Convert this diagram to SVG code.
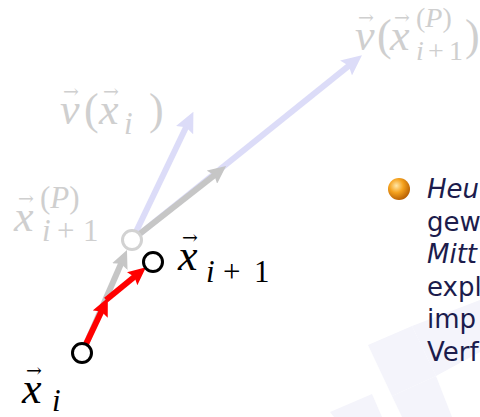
<svg xmlns="http://www.w3.org/2000/svg" width="480" height="417" viewBox="0 0 480 417">
<defs>
<style>
.m{font-family:"Liberation Serif",serif;font-style:italic;font-size:44px}
.n{font-family:"Liberation Serif",serif;font-style:normal}
.s{font-size:31px}
.s2{font-size:28px}
.ar{font-family:"DejaVu Serif",serif;font-style:normal;font-size:19px}
.g{fill:#cfcfcf}
.k{fill:#000}
.t{font-family:"DejaVu Sans","Noto Sans",sans-serif;font-size:26px;fill:#1c1c4c}
.red{stroke:#ff0000;stroke-width:6;fill:none}
.gry{stroke:#c6c6c6;stroke-width:6;fill:none}
.lav{stroke:#dcdcf8;stroke-width:6;fill:none}
</style>
<marker id="hr" viewBox="0 0 3 2.8" refX="1.5" refY="1.4" markerWidth="3" markerHeight="2.8" orient="auto" markerUnits="strokeWidth"><path d="M0,0 L3,1.4 L0,2.8 L0.5,1.4 z" fill="#ff0000"/></marker>
<marker id="hg" viewBox="0 0 3 2.8" refX="1.5" refY="1.4" markerWidth="3" markerHeight="2.8" orient="auto" markerUnits="strokeWidth"><path d="M0,0 L3,1.4 L0,2.8 L0.5,1.4 z" fill="#c6c6c6"/></marker>
<marker id="hl" viewBox="0 0 3 2.8" refX="1.5" refY="1.4" markerWidth="3.4" markerHeight="3.2" orient="auto" markerUnits="strokeWidth"><path d="M0,0 L3,1.4 L0,2.8 L0.5,1.4 z" fill="#dcdcf8"/></marker>
<radialGradient id="ball" cx="0.38" cy="0.35" r="0.7">
<stop offset="0" stop-color="#ffe7a8"/>
<stop offset="0.45" stop-color="#f5a21e"/>
<stop offset="1" stop-color="#b35a00"/>
</radialGradient>
</defs>
<rect width="480" height="417" fill="#ffffff"/>
<g id="background" fill="#f4f4fb">
<polygon points="368,345 412,326 436,376 392,396"/>
<polygon points="412,326 480,300 480,352 436,376"/>
<polygon points="330,412 372,394 382,417 334,417"/>
<polygon points="392,396 436,376 452,417 402,417"/>
</g>
<g id="connectors">
<line class="lav" x1="137" y1="236" x2="354" y2="61.6" marker-end="url(#hl)"/>
<line class="lav" x1="134" y1="236" x2="189" y2="121" marker-end="url(#hl)"/>
<line class="gry" x1="137" y1="236" x2="219" y2="171.6" marker-end="url(#hg)"/>
<line class="gry" x1="84" y1="349" x2="123.4" y2="258.3" marker-end="url(#hg)"/>
<line class="red" x1="86" y1="344" x2="104" y2="306" marker-end="url(#hr)"/>
<line class="red" x1="106" y1="300" x2="139" y2="273" marker-end="url(#hr)"/>
</g>
<g id="node-xp">
<circle cx="132" cy="240" r="9.5" fill="#ffffff" stroke="#d2d2d2" stroke-width="3"/>
</g>
<g id="node-xi">
<circle cx="82" cy="353" r="9.5" fill="#ffffff" stroke="#000" stroke-width="3"/>
</g>
<g id="node-xi1">
<circle cx="153" cy="262" r="9.5" fill="#ffffff" stroke="#000" stroke-width="3"/>
</g>
<g id="label-vxi" class="g">
<text class="m" x="60" y="124">v</text>
<text class="ar" x="63" y="98">→</text>
<text class="m n" x="84" y="124">(</text>
<text class="m" x="99" y="124">x</text>
<text class="ar" x="103" y="98">→</text>
<text class="m s" x="124" y="134">i</text>
<text class="m n" x="149" y="124">)</text>
</g>
<g id="label-vxp" class="g">
<text class="m" x="355" y="50">v</text>
<text class="ar" x="358" y="24">→</text>
<text class="m n" x="377" y="50">(</text>
<text class="m" x="390" y="50">x</text>
<text class="ar" x="394" y="24">→</text>
<text class="m s2" x="416" y="27"><tspan class="n">(</tspan>P<tspan class="n">)</tspan></text>
<text class="m s2" x="416" y="60">i</text>
<text class="m n s2" x="428" y="60">+</text>
<text class="m n s2" x="449" y="60">1</text>
<text class="m n" x="465" y="50">)</text>
</g>
<g id="label-xp" class="g">
<text class="m" x="14" y="231">x</text>
<text class="ar" x="18" y="205">→</text>
<text class="m s" x="40" y="208"><tspan class="n">(</tspan>P<tspan class="n">)</tspan></text>
<text class="m s" x="42" y="241">i</text>
<text class="m n s" x="57" y="241">+</text>
<text class="m n s" x="83" y="241">1</text>
</g>
<g id="label-xi1" class="k">
<text class="m" x="178" y="270">x</text>
<text class="ar" x="182" y="244">→</text>
<text class="m s" x="206" y="282">i</text>
<text class="m n s" x="223" y="282">+</text>
<text class="m n s" x="254" y="282">1</text>
</g>
<g id="label-xi" class="k">
<text class="m" x="22" y="403">x</text>
<text class="ar" x="26" y="377">→</text>
<text class="m s" x="52" y="411">i</text>
</g>
<g id="bullet-text">
<circle cx="399" cy="189" r="11" fill="url(#ball)"/>
<text class="t" x="427" y="198" font-style="italic">Heu</text>
<text class="t" x="427" y="231">gew</text>
<text class="t" x="427" y="263" font-style="italic">Mitt</text>
<text class="t" x="427" y="296">expl</text>
<text class="t" x="427" y="328">imp</text>
<text class="t" x="427" y="361">Verf</text>
</g>
</svg>
